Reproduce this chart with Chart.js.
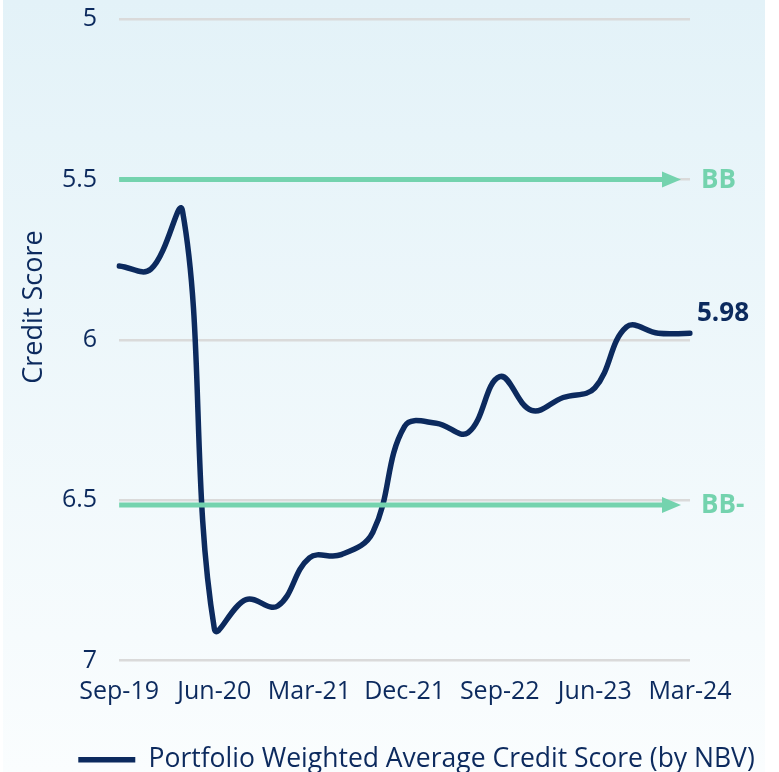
<!DOCTYPE html>
<html>
<head>
<meta charset="utf-8">
<script src="https://cdn.jsdelivr.net/npm/chart.js@4/dist/chart.umd.min.js"></script>
<style>
  html, body { margin: 0; padding: 0; background: #fff; }
  #wrap {
    position: relative; width: 779px; height: 772px;
    background: linear-gradient(to right, #fff 0, #fff 3px, transparent 3px, transparent 765px, #fff 765px),
                linear-gradient(#e3f2f8, #fafdfe);
  }
  canvas { position: absolute; left: 0; top: 0; }
</style>
</head>
<body>
<div id="wrap"><canvas id="score" width="779" height="772"></canvas></div>
<script>
var quarters = ["Sep-19", "Dec-19", "Mar-20", "Jun-20", "Sep-20", "Dec-20", "Mar-21", "Jun-21", "Sep-21", "Dec-21",
  "Mar-22", "Jun-22", "Sep-22", "Dec-22", "Mar-23", "Jun-23", "Sep-23", "Dec-23", "Mar-24"];
var scores = [5.77, 5.78, 5.6, 6.9, 6.81, 6.83, 6.68, 6.67, 6.6, 6.27,
  6.26, 6.29, 6.115, 6.22, 6.18, 6.15, 5.96, 5.98, 5.98];
var ratingNames = ["BB", "BB-"];
var ratingValues = [5.5, 6.515];
var lastLabel = "5.98";

var navy = "#0c2a5e";
var green = "#74d3ae";
var font = "Open Sans";

// green rating arrows + end label
var annotate = {
  id: "annotate",
  afterDatasetsDraw: function (chart) {
    var c = chart.ctx, a = chart.chartArea, y = chart.scales.y;
    c.save();
    for (var i = 0; i < ratingValues.length; i++) {
      var py = y.getPixelForValue(ratingValues[i]);
      c.strokeStyle = green;
      c.lineWidth = 5;
      c.beginPath();
      c.moveTo(a.left, py);
      c.lineTo(a.right - 26, py);
      c.stroke();
      c.fillStyle = green;
      c.beginPath();
      c.moveTo(a.right - 28, py - 8);
      c.lineTo(a.right - 9, py);
      c.lineTo(a.right - 28, py + 8);
      c.closePath();
      c.fill();
      c.font = "bold 26px " + font;
      c.textBaseline = "middle";
      c.fillText(ratingNames[i], a.right + 11, py + 1);
    }
    var meta = chart.getDatasetMeta(0);
    var pt = meta.data[meta.data.length - 1];
    c.fillStyle = navy;
    c.font = "bold 26px " + font;
    c.textBaseline = "middle";
    c.fillText(lastLabel, pt.x + 7, pt.y - 20);
    // y-axis title
    c.translate(34, 307);
    c.rotate(-Math.PI / 2);
    c.textAlign = "center";
    c.font = "27px " + font;
    c.fillText("Credit Score", 0, 0);
    c.restore();
  }
};

var ctx = document.getElementById("score").getContext("2d");
new Chart(ctx, {
  type: "line",
  data: {
    labels: quarters,
    datasets: [
      {
        label: "Portfolio Weighted Average Credit Score (by NBV)",
        data: scores,
        borderColor: navy,
        backgroundColor: navy,
        borderWidth: 5.5,
        pointRadius: 0,
        tension: 0.4,
        borderCapStyle: "round",
      },
    ],
  },
  options: {
    responsive: false,
    animation: false,
    layout: { padding: { left: 62, right: 8, top: 19, bottom: -11 } },
    plugins: {
      legend: {
        position: "bottom",
        labels: {
          usePointStyle: true,
          pointStyle: "line",
          pointStyleWidth: 57,
          boxHeight: 5,
          color: navy,
          font: { family: font, size: 26.5 },
          padding: 10,
        },
      },
      tooltip: { enabled: false },
    },
    scales: {
      x: {
        offset: false,
        grid: { display: false },
        border: { display: false },
        afterFit: function (s) { s.height += 22; },
        ticks: {
          autoSkip: false,
          maxRotation: 0,
          color: navy,
          font: { family: font, size: 25 },
          padding: 8,
          callback: function (v, i) {
            return i % 3 === 0 ? quarters[i] : "";
          },
        },
      },
      y: {
        reverse: true,
        min: 5,
        max: 7,
        grid: { color: "#dadada", lineWidth: 2.5, drawTicks: true, tickLength: 22, tickColor: "transparent" },
        border: { display: false },
        ticks: {
          stepSize: 0.5,
          color: navy,
          font: { family: font, size: 25 },
          padding: 0,
          callback: function (v) {
            return String(v);
          },
        },
      },
      // empty right-hand band for the BB / 5.98 labels
      side: {
        position: "right",
        grid: { display: false },
        border: { display: false },
        ticks: { display: false },
        afterFit: function (s) { s.width = 81; },
      },
    },
  },
  plugins: [annotate],
});
</script>
</body>
</html>
